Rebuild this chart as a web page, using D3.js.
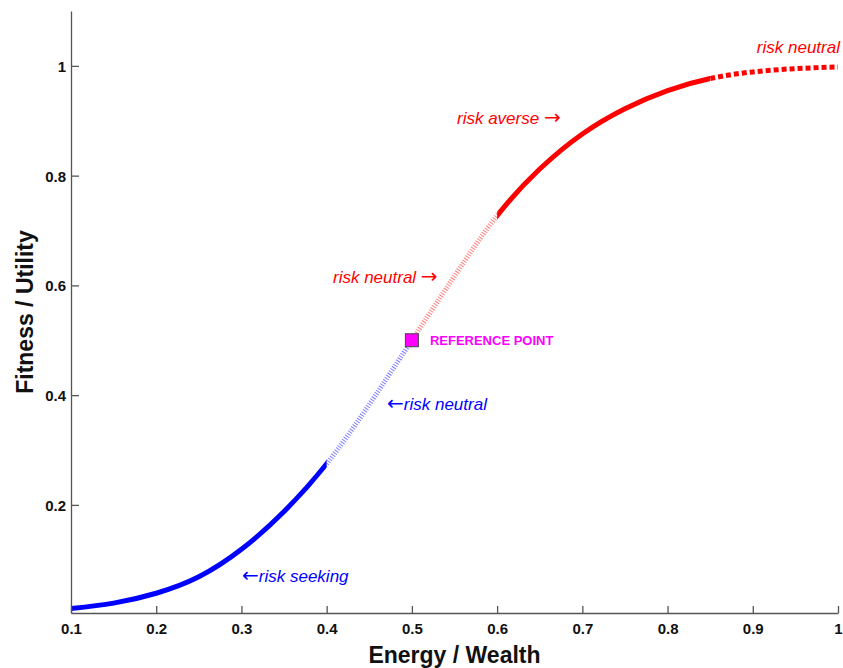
<!DOCTYPE html>
<html>
<head>
<meta charset="utf-8">
<script src="https://cdn.jsdelivr.net/npm/d3@7"></script>
<style>
  html, body { margin: 0; padding: 0; background: #fff; }
  svg { display: block; }
  text { font-family: "Liberation Sans", Arial, Helvetica, sans-serif; }
</style>
</head>
<body>
<svg id="chart" width="843" height="668"></svg>
<script>
// ---- data ----
const energy  = [0.10, 0.15, 0.20, 0.25, 0.30, 0.35, 0.40, 0.45, 0.50, 0.55, 0.60, 0.65, 0.70, 0.75, 0.80, 0.85, 0.90, 0.95, 1.00];
const fitness = [0.011, 0.021, 0.039, 0.069, 0.119, 0.188, 0.275, 0.383, 0.500, 0.617, 0.727, 0.812, 0.876, 0.922, 0.955, 0.977, 0.989, 0.995, 0.998];

// segments of the curve
const segStart  = [0.10, 0.40, 0.50, 0.60, 0.85];
const segEnd    = [0.40, 0.50, 0.60, 0.85, 1.00];
const segColour = ["blue", "blue", "red", "red", "red"];
const segStyle  = ["solid", "hatch", "hatch", "solid", "dots"];

const xTicks = [0.1, 0.2, 0.3, 0.4, 0.5, 0.6, 0.7, 0.8, 0.9, 1];
const xTickLabels = ["0.1", "0.2", "0.3", "0.4", "0.5", "0.6", "0.7", "0.8", "0.9", "1"];
const yTicks = [0.2, 0.4, 0.6, 0.8, 1];
const yTickLabels = ["0.2", "0.4", "0.6", "0.8", "1"];

const refPoint = [0.5, 0.5];

// ---- drawing ----
const svg = d3.select("#chart");
const x = d3.scaleLinear().domain([0.1, 1]).range([71, 838]);
const y = d3.scaleLinear().domain([0.003, 1.1]).range([613, 11]);

const axisColour = "#555";
const defs = svg.append("defs");

// one smooth curve, drawn once per segment and clipped to the segment's x-range
const pts = energy.map((e, i) => ({ x: e, y: fitness[i] }));
const line = d3.line().x(d => x(d.x)).y(d => y(d.y)).curve(d3.curveNatural);
const fullPath = line(pts);

segStart.forEach((s, i) => {
  const id = "seg" + i;
  defs.append("clipPath").attr("id", id).append("rect")
    .attr("x", x(s)).attr("y", 0)
    .attr("width", x(segEnd[i]) - x(s) + (i === segStart.length - 1 ? 4 : 0))
    .attr("height", 668);
  const path = svg.append("path")
    .attr("d", fullPath)
    .attr("clip-path", `url(#${id})`)
    .attr("fill", "none")
    .attr("stroke", segColour[i])
    .attr("stroke-width", 5);
  if (segStyle[i] === "hatch") {
    path.attr("stroke-dasharray", "1,1.6").attr("stroke-opacity", 0.5);
  } else if (segStyle[i] === "dots") {
    path.attr("stroke-dasharray", "5,3");
  }
});

// axes
const xAxis = d3.axisBottom(x).tickValues(xTicks)
  .tickFormat((d, i) => xTickLabels[i]).tickSizeInner(-7).tickSizeOuter(0).tickPadding(10);
const yAxis = d3.axisLeft(y).tickValues(yTicks)
  .tickFormat((d, i) => yTickLabels[i]).tickSizeInner(-8).tickSizeOuter(0).tickPadding(5);

const gx = svg.append("g").attr("transform", "translate(0,613)").call(xAxis);
const gy = svg.append("g").attr("transform", "translate(71,0)").call(yAxis);
[gx, gy].forEach(g => {
  g.select(".domain").attr("stroke", axisColour).attr("stroke-width", 1.3);
  g.selectAll(".tick line").attr("stroke", axisColour).attr("stroke-width", 1.3);
  g.selectAll(".tick text")
    .attr("fill", "#111")
    .style("font-family", "'Liberation Sans', Arial, sans-serif")
    .style("font-size", "15px")
    .style("font-weight", "bold");
});
gy.selectAll(".tick text").attr("dy", "0.36em");

// axis titles
svg.append("text")
  .attr("x", (x(0.1) + x(1)) / 2).attr("y", 663)
  .attr("text-anchor", "middle")
  .style("font-size", "23px").style("font-weight", "bold").attr("fill", "#111")
  .text("Energy / Wealth");
svg.append("text")
  .attr("transform", `translate(33,${(y.range()[0] + y.range()[1]) / 2}) rotate(-90)`)
  .attr("text-anchor", "middle")
  .style("font-size", "23px").style("font-weight", "bold").attr("fill", "#111")
  .text("Fitness / Utility");

// reference point
const sq = 13;
svg.append("rect")
  .attr("x", x(refPoint[0]) - sq / 2).attr("y", y(refPoint[1]) - sq / 2)
  .attr("width", sq).attr("height", sq)
  .attr("fill", "#ff00ff").attr("stroke", "#444").attr("stroke-width", 1);
svg.append("text")
  .attr("x", x(refPoint[0]) + 18).attr("y", y(refPoint[1]) + 5)
  .style("font-size", "13px").style("font-weight", "bold").attr("fill", "#ff00ff")
  .text("REFERENCE POINT");

// annotations (arrows drawn with a font that has a wide arrow glyph)
function note(before, label, after, px, py, colour, anchor) {
  const t = svg.append("text")
    .attr("x", px).attr("y", py)
    .attr("text-anchor", anchor || "start")
    .style("font-size", "17px").style("font-style", "italic")
    .attr("fill", colour);
  const arrowStyle = s => s.style("font-family", "'DejaVu Sans', sans-serif")
    .style("font-style", "normal").style("font-size", "20px");
  if (before) arrowStyle(t.append("tspan").text(before));
  t.append("tspan").text(label);
  if (after) arrowStyle(t.append("tspan").text(after));
}
note("", "risk neutral", "", x(1.0023), y(1.0235), "red", "end");
note("", "risk averse ", "\u2192", x(0.5529), y(0.894), "red");
note("", "risk neutral ", "\u2192", x(0.4074), y(0.604), "red");
note("\u2190", "risk neutral", "", x(0.4708), y(0.373), "blue");
note("\u2190", "risk seeking", "", x(0.3007), y(0.0595), "blue");
</script>
</body>
</html>
